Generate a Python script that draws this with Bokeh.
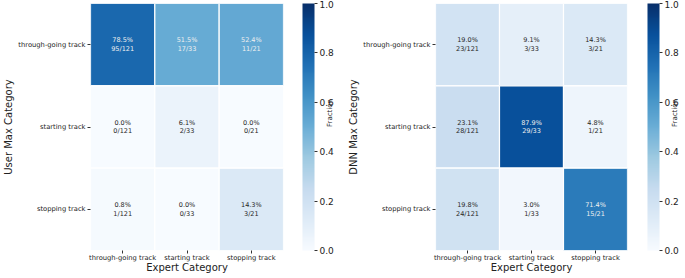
import math
from bokeh.plotting import figure
from bokeh.layouts import row
from bokeh.models import (ColumnDataSource, LinearColorMapper, ColorBar, FixedTicker,
                          PrintfTickFormatter, FactorRange, CategoricalAxis)
from bokeh.palettes import Blues256
from bokeh.transform import transform
from bokeh.core.properties import value
from bokeh.embed import file_html
from bokeh.resources import INLINE

categories = ["through-going track", "starting track", "stopping track"]
expert_totals = [121, 33, 21]
# rows: predicted (User / DNN) category, columns: expert category
user_counts = [[95, 17, 11],
               [0, 2, 0],
               [1, 0, 3]]
dnn_counts = [[23, 3, 3],
              [28, 29, 1],
              [24, 1, 15]]
colorbar_ticks = [0.0, 0.2, 0.4, 0.6, 0.8, 1.0]

FONT = "DejaVu Sans"
palette = list(reversed(Blues256))
H = 278
TOP = 3
BOTTOM = 28
FRAME_W = 199
FRAME_H = H - TOP - BOTTOM


def make(counts, ylabel, width, left, frac_standoff):
    xs, ys, fr, txt, tc = [], [], [], [], []
    for i, rc in enumerate(categories):
        for j, cc in enumerate(categories):
            c = counts[i][j]
            n = expert_totals[j]
            f = c / n
            xs.append(cc)
            ys.append(rc)
            fr.append(f)
            txt.append(f"{100 * f:.1f}%\n{c}/{n}")
            tc.append("#f0f0f0" if f > 0.45 else "#262626")
    src = ColumnDataSource(dict(x=xs, y=ys, f=fr, t=txt, tc=tc))
    mapper = LinearColorMapper(palette=palette, low=0, high=1)
    p = figure(width=width, height=H,
               x_range=FactorRange(*categories),
               y_range=FactorRange(*reversed(categories)),
               output_backend="svg", toolbar_location=None,
               min_border_left=left, min_border_right=width - left - FRAME_W,
               min_border_top=TOP, min_border_bottom=BOTTOM)
    p.outline_line_color = None
    p.grid.visible = False
    p.rect(x="x", y="y", width=1, height=1, source=src,
           fill_color=transform("f", mapper), line_color="white", line_width=1.2)
    p.text(x="x", y="y", text="t", text_color="tc", source=src,
           text_align="center", text_baseline="middle",
           text_font=value(FONT), text_font_size="6.5px", text_line_height=1.05)
    for ax in (p.xaxis[0], p.yaxis[0]):
        ax.axis_line_color = None
        ax.major_tick_in = 0
        ax.major_tick_out = 3
        ax.major_tick_line_color = "#333333"
        ax.major_label_text_font = FONT
        ax.major_label_text_font_size = "6.75px"
        ax.major_label_text_color = "#222222"
        ax.axis_label_text_font = FONT
        ax.axis_label_text_font_size = "10px"
        ax.axis_label_text_font_style = "normal"
        ax.axis_label_text_color = "#222222"
    p.xaxis.major_label_standoff = 0
    p.xaxis.axis_label_standoff = -3
    p.yaxis.major_label_standoff = 2
    p.yaxis.axis_label_standoff = 1
    p.xaxis.axis_label = "Expert Category"
    p.yaxis.axis_label = ylabel
    p.yaxis.major_label_orientation = "horizontal"

    cb = ColorBar(color_mapper=mapper, ticker=FixedTicker(ticks=colorbar_ticks),
                  formatter=PrintfTickFormatter(format="%.1f"),
                  location=(FRAME_W + 13, 0),
                  width=12, height=FRAME_H, padding=0, margin=0,
                  major_tick_in=0, major_tick_out=3, major_tick_line_color="#333333",
                  bar_line_color=None, border_line_color=None,
                  background_fill_alpha=0,
                  label_standoff=2, major_label_text_font=FONT,
                  major_label_text_font_size="9px",
                  major_label_text_color="#222222")
    p.add_layout(cb)

    # colour-bar label "Fraction", carried by a tick-less axis on the right
    fax = CategoricalAxis(axis_label="Fraction", axis_line_color=None,
                          major_tick_line_color=None, minor_tick_line_color=None,
                          major_tick_in=0, major_tick_out=0,
                          major_label_text_font_size="0px",
                          major_label_text_alpha=0, major_label_standoff=0,
                          axis_label_standoff=frac_standoff,
                          axis_label_text_font=FONT, axis_label_text_font_size="7px",
                          axis_label_text_font_style="normal",
                          axis_label_text_color="#222222")
    if "axis_label_orientation" in CategoricalAxis.properties():
        fax.axis_label_orientation = math.pi / 2
    p.add_layout(fax, "right")
    return p


p1 = make(user_counts, "User Max Category", 340, 87, 46)
p2 = make(dnn_counts, "DNN Max Category", 345, 95, 47)
layout = row(p1, p2)

open("out.html", "w").write(file_html(layout, INLINE))
